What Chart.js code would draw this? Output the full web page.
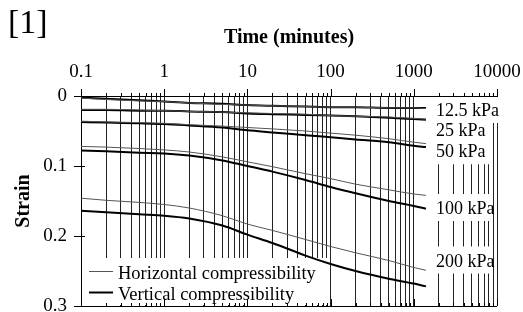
<!DOCTYPE html>
<html>
<head>
<meta charset="utf-8">
<script src="https://cdn.jsdelivr.net/npm/chart.js@4/dist/chart.umd.min.js"></script>
<style>
  html, body { margin: 0; padding: 0; background: #fff; }
  #wrap { width: 523px; height: 312px; position: relative; }
</style>
</head>
<body>
<div id="wrap"><canvas id="strainChart"></canvas></div>
<script>
// Time values (minutes) where the curves were read
const times = [0.1, 0.2, 0.5, 1, 2, 5, 10, 20, 50, 100, 200, 500, 1000, 1400];

const pressures = ['12.5 kPa', '25 kPa', '50 kPa', '100 kPa', '200 kPa'];
const seriesNames = ['Horizontal compressibility', 'Vertical compressibility'];

// Strain, horizontal (H) and vertical (V) compressibility
const h125 = [0.003, 0.005, 0.007, 0.008, 0.010, 0.012, 0.013, 0.014, 0.015, 0.016, 0.016, 0.017, 0.017, 0.018];
const v125 = [0.002, 0.004, 0.006, 0.008, 0.010, 0.011, 0.013, 0.014, 0.015, 0.016, 0.016, 0.017, 0.017, 0.017];
const h25 = [0.019, 0.019, 0.020, 0.021, 0.022, 0.023, 0.024, 0.025, 0.026, 0.028, 0.029, 0.030, 0.032, 0.033];
const v25 = [0.020, 0.020, 0.021, 0.021, 0.022, 0.023, 0.025, 0.026, 0.027, 0.028, 0.029, 0.031, 0.033, 0.034];
const h50 = [0.036, 0.037, 0.038, 0.039, 0.041, 0.043, 0.045, 0.047, 0.050, 0.053, 0.056, 0.061, 0.066, 0.068];
const v50 = [0.037, 0.038, 0.039, 0.040, 0.042, 0.045, 0.049, 0.052, 0.056, 0.059, 0.062, 0.066, 0.071, 0.073];
const h100 = [0.072, 0.073, 0.075, 0.077, 0.080, 0.087, 0.094, 0.101, 0.111, 0.118, 0.126, 0.134, 0.140, 0.142];
const v100 = [0.078, 0.079, 0.081, 0.082, 0.085, 0.092, 0.100, 0.108, 0.120, 0.130, 0.139, 0.150, 0.157, 0.161];
const h200 = [0.146, 0.149, 0.152, 0.155, 0.160, 0.171, 0.183, 0.192, 0.205, 0.215, 0.224, 0.235, 0.245, 0.249];
const v200 = [0.164, 0.166, 0.169, 0.171, 0.175, 0.185, 0.198, 0.210, 0.228, 0.240, 0.250, 0.261, 0.268, 0.272];

// where the pressure labels sit (strain at text centre)
const labelStrain = [0.020, 0.049, 0.079, 0.160, 0.235];

const timeTickLabels = ['0.1', '1', '10', '100', '1000', '10000'];
const strainTicks = [0, 0.1, 0.2, 0.3];
const strainLabels = ['0', '0.1', '0.2', '0.3'];

const SERIF = '"Liberation Serif", "Times New Roman", serif';

const hSeries = [h125, h25, h50, h100, h200];
const vSeries = [v125, v25, v50, v100, v200];

const datasets = [];
pressures.forEach((p, i) => {
    datasets.push({
        label: seriesNames[0] + ' ' + p,
        data: times.map((t, j) => ({ x: t, y: hSeries[i][j] })),
        borderColor: '#555',
        borderWidth: 1,
        pointRadius: 0,
        cubicInterpolationMode: 'monotone'
    });
    datasets.push({
        label: seriesNames[1] + ' ' + p,
        data: times.map((t, j) => ({ x: t, y: vSeries[i][j] })),
        borderColor: '#000',
        borderWidth: 2,
        pointRadius: 0,
        cubicInterpolationMode: 'monotone'
    });
});

function isDecade(v) {
    const l = Math.log10(v);
    return Math.abs(l - Math.round(l)) < 1e-9;
}

// white boxes, legend, labels, extra ticks
const decorations = {
    id: 'decorations',
    beforeDatasetsDraw(chart) {
        const { ctx, chartArea: a, scales: { x, y } } = chart;
        ctx.save();

        // legend box bottom-left
        const lx = a.left + 1, ly = a.bottom - 48;
        ctx.fillStyle = '#fff';
        ctx.fillRect(lx, ly, 246, 47);
        ctx.font = '18.5px ' + SERIF;
        ctx.textBaseline = 'alphabetic';
        ctx.textAlign = 'left';
        const rows = [ly + 13, ly + 34];
        rows.forEach((ry, k) => {
            ctx.strokeStyle = k === 0 ? '#555' : '#000';
            ctx.lineWidth = k === 0 ? 1 : 2;
            ctx.beginPath();
            ctx.moveTo(a.left + 8, ry + 0.5);
            ctx.lineTo(a.left + 32, ry + 0.5);
            ctx.stroke();
            ctx.fillStyle = '#000';
            ctx.fillText(seriesNames[k], a.left + 37, ry + 8);
        });

        // pressure labels on the right
        const bx = x.getPixelForValue(times[times.length - 1]) + 2;
        pressures.forEach((p, i) => {
            const ym = y.getPixelForValue(labelStrain[i]);
            const top = i === 0 ? a.top + 1 : ym - 14;
            const right = i === 0 ? a.right + 3 : a.right - 6;
            ctx.fillStyle = '#fff';
            ctx.fillRect(bx, top, right - bx, ym + 13 - top);
        });
        ctx.fillStyle = '#000';
        ctx.font = '18px ' + SERIF;
        pressures.forEach((p, i) => {
            const ym = y.getPixelForValue(labelStrain[i]);
            ctx.fillText(p, bx + 8, ym + 6);
        });
        ctx.restore();
    },
    afterDraw(chart) {
        const { ctx, chartArea: a, scales: { x, y } } = chart;
        ctx.save();
        ctx.strokeStyle = '#000';
        ctx.lineWidth = 1;
        ctx.beginPath();
        x.ticks.forEach(t => {
            const px = Math.round(x.getPixelForValue(t.value)) + 0.5;
            const len = isDecade(t.value) ? 7 : 3;
            ctx.moveTo(px, a.top);
            ctx.lineTo(px, a.top - len);
            ctx.moveTo(px, a.bottom);
            ctx.lineTo(px, a.bottom - len);
        });
        y.ticks.forEach(t => {
            const py = Math.round(y.getPixelForValue(t.value)) + 0.5;
            ctx.moveTo(a.left, py);
            ctx.lineTo(a.left + 4, py);
        });
        const by = Math.round(a.bottom) + 0.5;
        ctx.moveTo(a.left, by);
        ctx.lineTo(a.right, by);
        ctx.stroke();

        ctx.fillStyle = '#000';
        ctx.font = '34px ' + SERIF;
        ctx.textAlign = 'left';
        ctx.textBaseline = 'alphabetic';
        ctx.fillText('[1]', 8, 33);
        ctx.restore();
    }
};

const ctx = document.getElementById('strainChart').getContext('2d');
const strainChart = new Chart(ctx, {
    type: 'line',
    data: { datasets: datasets },
    options: {
        responsive: true,
        maintainAspectRatio: false,
        animation: false,
        devicePixelRatio: 1,
        layout: { padding: { left: 0, right: 26, top: 0, bottom: 6 } },
        plugins: {
            legend: { display: false },
            tooltip: { enabled: false }
        },
        scales: {
            x: {
                type: 'logarithmic',
                position: 'top',
                min: 0.1,
                max: 10000,
                afterBuildTicks: scale => {
                    const vals = [];
                    for (let d = -1; d < 4; d++) {
                        for (let m = 1; m < 10; m++) vals.push(m * Math.pow(10, d));
                    }
                    vals.push(10000);
                    scale.ticks = vals.map(v => ({ value: v }));
                },
                afterFit: scale => {
                    scale.height = 96;
                    scale.paddingLeft = 0;
                    scale.paddingRight = 0;
                },
                ticks: {
                    autoSkip: false,
                    maxRotation: 0,
                    padding: 13,
                    color: '#000',
                    font: { family: SERIF, size: 19 },
                    callback: v => isDecade(v) ? timeTickLabels[Math.round(Math.log10(v)) + 1] : ''
                },
                grid: { color: '#222', lineWidth: 1, drawTicks: false },
                border: { display: true, color: '#000', width: 1 },
                title: {
                    display: true,
                    text: 'Time (minutes)',
                    color: '#000',
                    font: { family: SERIF, size: 20, weight: 'bold' },
                    padding: { top: 26, bottom: 0 }
                }
            },
            y: {
                type: 'linear',
                reverse: true,
                min: 0,
                max: 0.3,
                afterBuildTicks: scale => {
                    scale.ticks = strainTicks.map(v => ({ value: v }));
                },
                afterFit: scale => {
                    scale.width = 81;
                    scale.paddingTop = 0;
                    scale.paddingBottom = 0;
                },
                ticks: {
                    padding: 7,
                    color: '#000',
                    font: { family: SERIF, size: 19 },
                    callback: (v, i) => strainLabels[i]
                },
                grid: { drawOnChartArea: false, drawTicks: true, tickLength: 7, tickColor: '#000' },
                border: { display: true, color: '#000', width: 1 },
                title: {
                    display: true,
                    text: 'Strain',
                    color: '#000',
                    font: { family: SERIF, size: 20, weight: 'bold' },
                    padding: { top: 12, bottom: 0 }
                }
            }
        }
    },
    plugins: [decorations]
});
</script>
</body>
</html>
